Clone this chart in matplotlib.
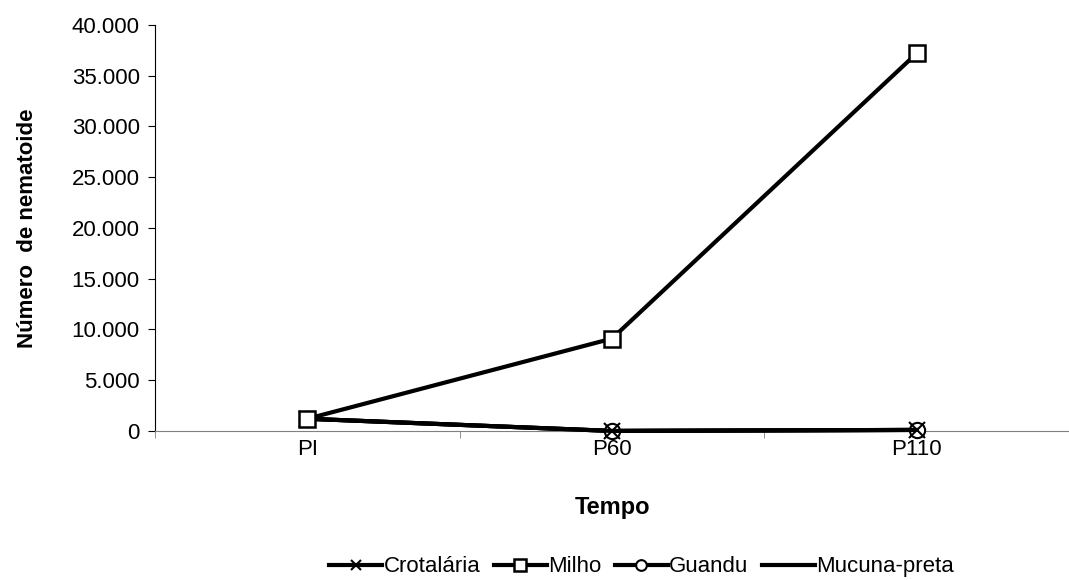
import matplotlib.pyplot as plt
from matplotlib.ticker import FuncFormatter

plt.rcParams['font.family'] = ['Liberation Sans', 'DejaVu Sans']

tempos = ["PI", "P60", "P110"]
crotalaria = [1200, 0, 100]
milho = [1200, 9100, 37200]
guandu = [1200, 0, 100]
mucuna = [1200, 0, 100]

fig = plt.figure(figsize=(10.69, 5.8), dpi=100)
ax = fig.add_axes([0.145, 0.257, 0.855, 0.70])

x = range(len(tempos))
ax.plot(x, mucuna, color='black', lw=3, label='Mucuna-preta', zorder=2,
        clip_on=False)
ax.plot(x, guandu, color='black', lw=3, marker='o', ms=11, mfc='white',
        mec='black', mew=1.5, label='Guandu', zorder=3, clip_on=False)
ax.plot(x, crotalaria, color='black', lw=3, marker='x', ms=11,
        mec='black', mew=1.5, label='Crotalária', zorder=4, clip_on=False)
ax.plot(x, milho, color='black', lw=3, marker='s', ms=12, mfc='white',
        mec='black', mew=1.8, label='Milho', zorder=5, clip_on=False)

ax.set_xlim(-0.5, 2.5)
ax.set_ylim(0, 40000)
ax.set_yticks(range(0, 40001, 5000))
ax.yaxis.set_major_formatter(FuncFormatter(lambda v, p: f"{int(v):,}".replace(",", ".")))
ax.set_xticks(list(x))
ax.set_xticklabels(tempos)
ax.set_xticks([-0.5, 0.5, 1.5, 2.5], minor=True)
ax.tick_params(axis='x', which='major', length=0, pad=6, labelsize=16)
ax.tick_params(axis='x', which='minor', length=5, color='#808080')
ax.tick_params(axis='y', length=5, labelsize=16, pad=6)

for s in ['top', 'right']:
    ax.spines[s].set_visible(False)
ax.spines['bottom'].set_color('#808080')
ax.spines['left'].set_color('black')

ax.set_xlabel("Tempo", fontsize=17, fontweight='bold', labelpad=26)
ax.set_ylabel("Número  de nematoide", fontsize=16, fontweight='bold', labelpad=24)

handles, labels = ax.get_legend_handles_labels()
order = [2, 3, 1, 0]
fig.legend([handles[i] for i in order], [labels[i] for i in order],
           loc='lower center', bbox_to_anchor=(0.6, -0.03), ncol=4, frameon=False,
           fontsize=16, handlelength=2.4, handletextpad=0.05, columnspacing=0.6,
           markerscale=0.7)

fig.savefig("out.png", dpi=100)
